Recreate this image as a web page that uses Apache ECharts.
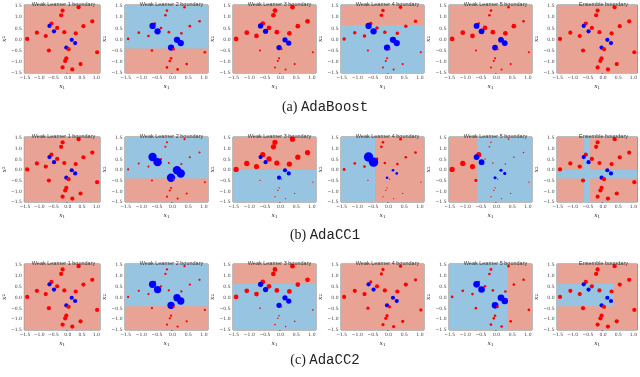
<!DOCTYPE html>
<html><head><meta charset="utf-8">
<script src="https://cdn.jsdelivr.net/npm/echarts@6/dist/echarts.min.js"></script>
<style>html,body{margin:0;padding:0;background:#fff}#c{width:640px;height:377px}</style>
</head><body><div id="c"></div>
<script>
// ---- data ----
const captions = ['(a)|AdaBoost', '(b)|AdaCC1', '(c)|AdaCC2'];
const titles = ['Weak Learner 1 boundary','Weak Learner 2 boundary','Weak Learner 3 boundary','Weak Learner 4 boundary','Weak Learner 5 boundary','Ensemble boundary'];
const xTicks = [-1.5, -1.0, -0.5, 0.0, 0.5, 1.0];
const yTicks = [-1.5, -1.0, -0.5, 0.0, 0.5, 1.0, 1.5];
const XMIN = -1.52, XMAX = 1.13, YMIN = -1.5, YMAX = 1.55;

const ptX = [0.38,-0.18,-0.23,0.86,0.55,-0.57,-0.64,-0.37,-0.48,-0.12,-1.08,-0.77,0.28,-1.42,0.14,0.26,-0.05,0.03,-0.66,1.03,-0.05,-0.09,0.45,-0.18,0.16];
const ptY = [1.45,1.30,1.09,0.82,0.60,0.72,0.61,0.52,0.37,0.33,0.31,0.16,0.28,0.03,-0.01,-0.16,-0.36,-0.43,-0.49,-0.57,-0.84,-0.96,-1.10,-1.25,-1.34];
const ptCls = [0,0,0,0,0,0,1,0,1,0,0,0,0,0,1,1,1,0,0,0,0,0,0,0,0]; // 0 red, 1 blue

const W1 = [1,1,1,1,1,1,1,1,1,1,1,1,1,1,1,1,1,1,1,1,1,1,1,1,1];
const weightsA = [
  W1,
  [.4,.4,.4,.4,.4,.4,2.25,.4,2.25,.4,.4,.4,.4,.4,2.25,2.25,2.25,.4,.4,.4,.4,.4,.4,.4,.4],
  [1.27,1.27,1.27,1.27,1.27,1.27,1.56,1.27,1.56,1.27,1.27,1.27,1.27,1.27,1.56,1.56,1.56,.25,.25,.25,.25,.25,.25,.25,.25],
  [.7,.7,.7,.7,.7,.7,2.25,.7,2.25,.7,.7,.7,.7,.7,2.25,2.25,2.25,.25,.25,.25,.25,.25,.25,.25,.25],
  [.4,.4,.4,.4,1.27,.4,1.9,1.27,1.9,1.27,1.27,1.27,1.27,1.27,1.9,1.9,1.9,.25,.25,.25,.25,.25,.25,.25,.25],
  W1
];
const weightsB = [
  W1,
  [.25,.25,.25,.25,.25,.25,4,.25,4,.25,.25,.25,.25,.25,4,4,4,.25,.25,.25,.25,.25,.25,.25,.25],
  [1.56,1.56,1.56,1.56,1.56,1.56,1.0,1.56,1.0,1.56,1.56,1.56,1.56,1.56,1.0,1.0,1.0,.09,.09,.09,.09,.09,.09,.09,.09],
  [.4,.4,.4,.4,.4,.4,5,.4,5,.4,.4,.4,.4,.5,.4,.4,.4,.09,.09,.09,.09,.09,.09,.09,.09],
  [.14,.14,.14,.14,.14,1.56,1.9,.14,1.9,.14,1.56,1.56,.14,1.56,.56,.56,.56,.09,.6,.09,.09,.09,.09,.09,.09],
  W1
];
const weightsC = [
  W1,
  [.3,.3,.3,.3,.3,.3,3,.3,3,.3,.3,.3,.3,.3,3,3,3,.3,.3,.3,.3,.3,.3,.3,.3],
  [1.27,1.27,1.27,1.27,1.27,1.27,1.56,1.27,1.56,1.27,1.27,1.27,1.27,1.27,1.56,1.56,1.56,.14,.14,.14,.14,.14,.14,.14,.14],
  [.6,.6,.6,.6,1.0,.6,1.0,1.0,1.0,1.0,1.0,1.0,1.0,1.0,1.0,1.0,1.0,.6,.6,.6,.6,.6,.6,.6,.6],
  [.4,.4,.4,.4,.4,.4,2.5,.4,2.5,.4,.4,.4,.4,.4,2.5,2.5,2.5,.4,.4,.4,.4,.4,.4,.4,.4],
  W1
];
// blue decision regions per panel: [x0, x1, y0, y1]
const blueA = [[], [[XMIN,XMAX,-0.40,YMAX]], [], [[XMIN,XMAX,YMIN,0.65]], [], []];
const blueB = [[], [[XMIN,XMAX,-0.40,YMAX]], [[XMIN,XMAX,YMIN,0.0]], [[XMIN,-0.43,YMIN,YMAX]], [[-0.63,XMAX,YMIN,YMAX]],
               [[-0.63,-0.43,YMIN,YMAX],[XMIN,XMAX,-0.40,0.0]]];
const blueC = [[], [[XMIN,XMAX,-0.40,YMAX]], [[XMIN,XMAX,YMIN,0.65]], [], [[XMIN,0.35,YMIN,YMAX]], [[XMIN,0.35,-0.40,0.65]]];

// ---- layout ----
const rowTop = [5, 137, 264], rowH = [68, 65, 66];
const colLeft0 = 17, colStep = 108, colW = 83;
const captionY = [95, 223, 348];
const RED_BG = '#E9A394', BLUE_BG = '#96C4E1';
const weightsAll = [weightsA, weightsB, weightsC];
const blueAll = [blueA, blueB, blueC];

const fmt = v => (v < 0 ? '\u2212' + Math.abs(v).toFixed(1) : v.toFixed(1));
const grids = [], xAxes = [], yAxes = [], series = [], titleArr = [];
let k = 0;
for (let r = 0; r < 3; r++) {
  for (let c = 0; c < 6; c++) {
    const left = colLeft0 + colStep * c;
    grids.push({left: left, top: rowTop[r], width: colW, height: rowH[r], show: true,
      borderColor: '#555', borderWidth: 0.8, backgroundColor: 'transparent'});
    xAxes.push({type: 'value', gridIndex: k, min: XMIN, max: XMAX,
      name: '{i|x}{s|1}', nameLocation: 'middle', nameGap: 10,
      nameTextStyle: {rich: {i: {fontFamily: 'DejaVu Serif', fontStyle: 'italic', fontSize: 6, color: '#222'},
                              s: {fontFamily: 'DejaVu Serif', fontSize: 4, color: '#222', verticalAlign: 'bottom', padding: [3,0,0,0]}}},
      splitLine: {show: false}, axisLine: {show: false},
      axisTick: {show: true, length: 1.5, lineStyle: {color: '#333', width: 0.5}, customValues: xTicks},
      axisLabel: {fontSize: 4.5, color: '#444', margin: 2.5, fontFamily: 'DejaVu Sans', customValues: xTicks, formatter: fmt}});
    yAxes.push({type: 'value', gridIndex: k, min: YMIN, max: YMAX,
      name: '{i|x}{s|2}', nameLocation: 'middle', nameGap: 12, nameRotate: 90,
      nameTextStyle: {rich: {i: {fontFamily: 'DejaVu Serif', fontStyle: 'italic', fontSize: 6, color: '#222'},
                              s: {fontFamily: 'DejaVu Serif', fontSize: 4, color: '#222'}}},
      splitLine: {show: false}, axisLine: {show: false},
      axisTick: {show: true, length: 1.5, lineStyle: {color: '#333', width: 0.5}, customValues: yTicks},
      axisLabel: {fontSize: 4.5, color: '#444', margin: 2.5, fontFamily: 'DejaVu Sans', customValues: yTicks, formatter: fmt}});
    const regions = [[XMIN, XMAX, YMIN, YMAX, 0]].concat(blueAll[r][c].map(b => b.concat([1])));
    series.push({type: 'custom', xAxisIndex: k, yAxisIndex: k, clip: true, silent: true, z: 1,
      data: regions,
      renderItem: function (params, api) {
        const p0 = api.coord([api.value(0), api.value(3)]);
        const p1 = api.coord([api.value(1), api.value(2)]);
        return {type: 'rect', shape: {x: p0[0], y: p0[1], width: p1[0] - p0[0], height: p1[1] - p0[1]},
          style: {fill: api.value(4) ? BLUE_BG : RED_BG}};
      }});
    const w = weightsAll[r][c];
    series.push({type: 'scatter', xAxisIndex: k, yAxisIndex: k, z: 3, silent: true,
      data: ptX.map((x, i) => [x, ptY[i], w[i], ptCls[i]]),
      symbolSize: v => 4.2 * Math.sqrt(v[2]),
      itemStyle: {opacity: 1, color: p => p.value[3] ? '#0000ff' : '#ff0000'}});
    titleArr.push({text: titles[c], left: left + colW / 2, top: rowTop[r] - 9, textAlign: 'center',
      textStyle: {fontSize: 5.5, fontWeight: 'normal', color: '#333', fontFamily: 'Liberation Sans'}});
    k++;
  }
  const parts = captions[r].split('|');
  titleArr.push({text: '{a|' + parts[0] + ' }{b|' + parts[1] + '}', left: 320, top: captionY[r], textAlign: 'center',
    textStyle: {fontWeight: 'normal', rich: {a: {fontFamily: 'Liberation Serif', fontWeight: 'normal', fontSize: 14, color: '#222'},
                       b: {fontFamily: 'Liberation Mono', fontWeight: 'normal', fontSize: 14, color: '#222'}}}});
}

const chart = echarts.init(document.getElementById('c'), null, {renderer: 'canvas'});
chart.setOption({backgroundColor: '#fff', animation: false, title: titleArr, grid: grids, xAxis: xAxes, yAxis: yAxes, series: series});
</script></body></html>
